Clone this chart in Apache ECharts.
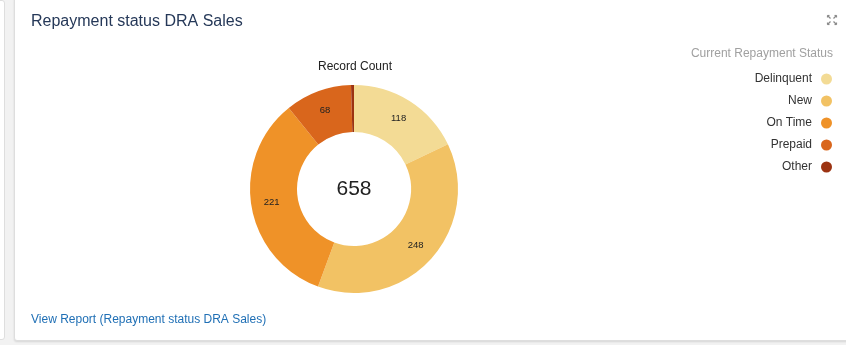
<!DOCTYPE html>
<html>
<head>
<meta charset="utf-8">
<script src="https://cdn.jsdelivr.net/npm/echarts@6/dist/echarts.min.js"></script>
<style>
  html, body { margin: 0; padding: 0; background: #f2f2f2; width: 846px; height: 345px; overflow: hidden; }
  #leftcard { position: absolute; left: -10px; top: 0; width: 13px; height: 338px; background: #fff; border: 1px solid #dedede; border-radius: 3px; }
  #card { position: absolute; left: 14px; top: -3px; width: 840px; height: 342px; background: #fff; border: 1px solid #dedede; border-radius: 3px; box-shadow: 0 1px 2px rgba(0,0,0,0.12); }
  #main { position: absolute; left: 0; top: 0; width: 846px; height: 345px; }
</style>
</head>
<body>
<div id="leftcard"></div>
<div id="card"></div>
<div id="main"></div>
<script>
  const statuses = ['Delinquent', 'New', 'On Time', 'Prepaid', 'Other'];
  const counts = [118, 248, 221, 68, 3];
  const colors = ['#f3db95', '#f2c264', '#ef9228', '#d9661c', '#9c3312'];

  const total = counts.reduce((a, b) => a + b, 0);
  const font = 'Liberation Sans, Arial, sans-serif';

  const chart = echarts.init(document.getElementById('main'), null, { width: 846, height: 345 });

  // expand icon: four little corner arrows
  const arrow = (x1, y1, x2, y2) => ({
    type: 'line', shape: { x1: x1, y1: y1, x2: x2, y2: y2 },
    style: { stroke: '#8a8a8a', lineWidth: 1.2 }
  });

  var option = {
    color: colors,
    textStyle: { fontFamily: font },
    title: [
      {
        text: 'Repayment status DRA Sales',
        left: 31, top: 14, padding: 0,
        textStyle: { fontSize: 16, fontWeight: 'normal', color: '#253858' }
      },
      {
        text: 'Record Count',
        left: 355, top: 61, padding: 0, textAlign: 'center',
        textStyle: { fontSize: 12, fontWeight: 'normal', color: '#222' }
      },
      {
        text: String(total),
        left: 354, top: 179, padding: 0, textAlign: 'center',
        textStyle: { fontSize: 21, fontWeight: 'normal', color: '#222' }
      }
    ],
    legend: {
      orient: 'vertical',
      right: 14, top: 73,
      padding: 0,
      align: 'right',
      icon: 'circle',
      itemWidth: 11, itemHeight: 11,
      itemGap: 10,
      textStyle: { fontSize: 12, color: '#333', padding: [0, 4, 0, 0] },
      data: statuses
    },
    graphic: [
      {
        type: 'text', right: 13, top: 48,
        style: { text: 'Current Repayment Status', fontSize: 12, fill: '#a0a0a0', fontFamily: font }
      },
      {
        type: 'text', left: 31, top: 314,
        style: { text: 'View Report (Repayment status DRA Sales)', fontSize: 12, fill: '#1f6fb5', fontFamily: font }
      },
      {
        type: 'group', left: 825, top: 13,
        children: [
          arrow(0, 0, 3, 3), arrow(0, 0, 0, 2), arrow(0, 0, 2, 0),
          arrow(9, 0, 6, 3), arrow(9, 0, 9, 2), arrow(9, 0, 7, 0),
          arrow(0, 9, 3, 6), arrow(0, 9, 0, 7), arrow(0, 9, 2, 9),
          arrow(9, 9, 6, 6), arrow(9, 9, 9, 7), arrow(9, 9, 7, 9)
        ]
      }
    ],
    series: [
      {
        name: 'Record Count',
        type: 'pie',
        center: [354, 189],
        radius: [57, 104],
        startAngle: 90,
        clockwise: true,
        avoidLabelOverlap: false,
        itemStyle: { borderWidth: 0 },
        label: {
          position: 'inside',
          formatter: p => p.value >= 10 ? String(p.value) : '',
          fontSize: 9.5,
          color: '#222'
        },
        labelLine: { show: false },
        emphasis: { disabled: true },
        data: statuses.map((s, i) => ({ name: s, value: counts[i] }))
      }
    ]
  };

  chart.setOption(option);
</script>
</body>
</html>
